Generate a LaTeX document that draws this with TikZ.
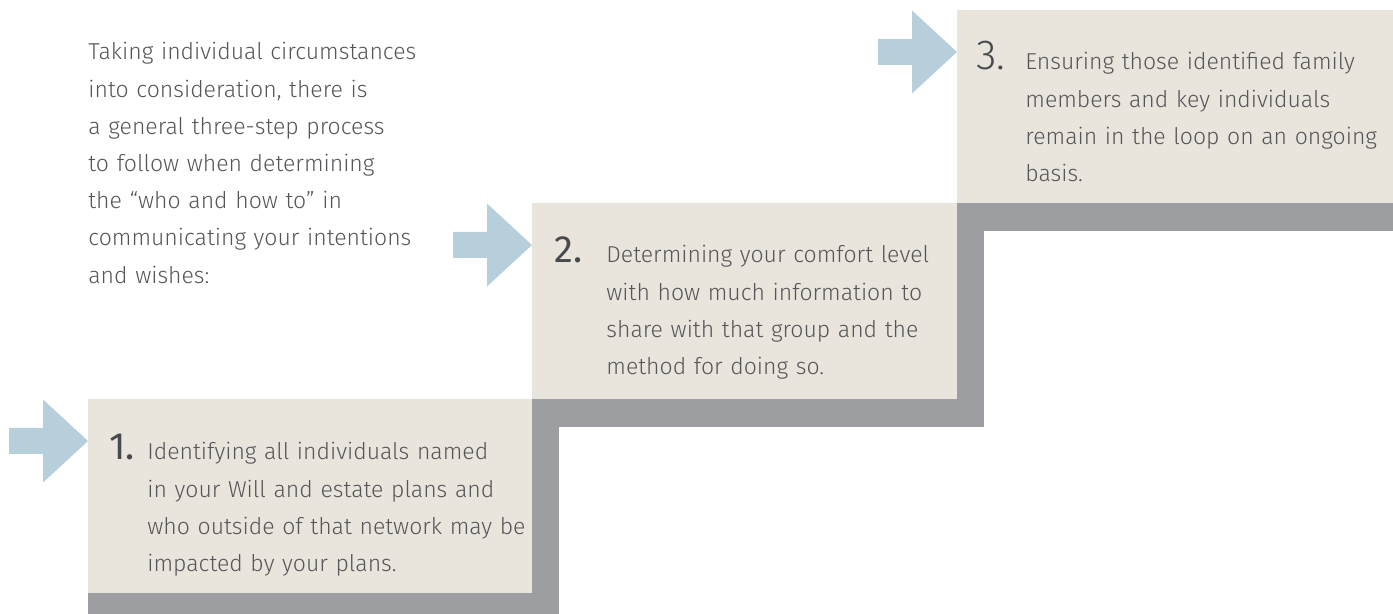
\documentclass[tikz,border=0pt]{standalone}
\usepackage{fontspec}
\setmainfont{Fira Sans}[UprightFont={* Light}]
\newfontfamily\numfont{Fira Sans}
\newfontfamily\numlightfont{Fira Sans Light}
\usetikzlibrary{calc,backgrounds}
\definecolor{beige}{HTML}{E9E5DC}
\definecolor{shade}{HTML}{9D9EA1}
\definecolor{arrowblue}{HTML}{B6CFDB}
\definecolor{txt}{HTML}{55565A}
\definecolor{numc}{HTML}{48494C}
\begin{document}
\begin{tikzpicture}[x=0.5pt,y=-0.5pt,
  stepbox/.style={fill=beige, draw=none, inner sep=0pt, anchor=north west},
  shadowfill/.style={fill=shade},
  arrowfill/.style={fill=arrowblue},
  body/.style={inner sep=0pt, anchor=base west, text=txt, align=left,
    text width=#1, font=\fontsize{11.5}{18.6}\selectfont},
  body/.default=220pt,
  stepnum/.style={inner sep=0pt, anchor=base west, text=numc,
    font=\numfont\fontsize{19}{19}\selectfont},
  stepnumlight/.style={stepnum, font=\numlightfont\fontsize{21}{21}\selectfont}]
\useasboundingbox (0,0) rectangle (1393,614);
\clip (0,0) rectangle (1393,614);

% boxes
\node[stepbox, minimum width=222pt, minimum height=97pt] (b1) at (88,399) {};
\node[stepbox, minimum width=212.5pt, minimum height=98pt] (b2) at (532,203) {};
\node[stepbox, minimum width=218pt, minimum height=96.5pt] (b3) at (957,10) {};

% shadows (staircase)
\begin{scope}[on background layer]
  \foreach \b in {b1,b2,b3}{
    \fill[shadowfill] ($(\b.north west)+(0,27)$) rectangle ($(\b.south east)+(26,27)$);
  }
\end{scope}

% arrows
\foreach \b in {b1,b2,b3}{
  \fill[arrowfill] ($(\b.north west)+(0,42)$) -- ++(-45,-41.5) -- ++(0,28.5)
    -- ++(-34,0) -- ++(0,26) -- ++(34,0) -- ++(0,28.5) -- cycle;
}

% intro text
\node[body=200pt] (intro) at (88,60) {Taking individual circumstances\\
into consideration, there is\\
a general three-step process\\
to follow when determining\\
the “who and how to” in\\
communicating your intentions\\
and wishes:};

% step 1
\node[stepnum] (n1) at ($(b1.north west)+(21,61)$) {1.};
\node[body] (t1) at ($(b1.north west)+(59,61)$) {Identifying all individuals named\\
in your Will and estate plans and\\
who outside of that network may be\\
impacted by your plans.};

% step 2
\node[stepnum] (n2) at ($(b2.north west)+(22,60)$) {2.};
\node[body] (t2) at ($(b2.north west)+(74,60)$) {Determining your comfort level\\
with how much information to\\
share with that group and the\\
method for doing so.};

% step 3
\node[stepnumlight] (n3) at ($(b3.north west)+(19,60)$) {3.};
\node[body] (t3) at ($(b3.north west)+(68,60)$) {Ensuring those identified family\\
members and key individuals\\
remain in the loop on an ongoing\\
basis.};
\end{tikzpicture}
\end{document}
